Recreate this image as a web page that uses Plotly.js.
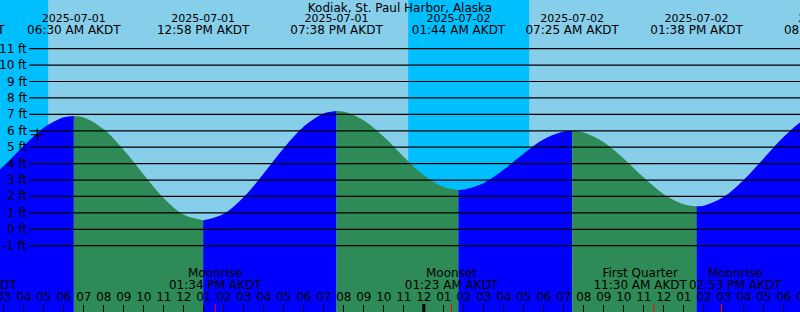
<!DOCTYPE html>
<html><head><meta charset="utf-8">
<script src="https://cdn.plot.ly/plotly-3.0.1.min.js"></script>
<style>html,body{margin:0;padding:0;background:#fff;overflow:hidden}#chart{width:800px;height:312px}</style>
</head><body><div id="chart"></div>
<script>
const stationName = 'Kodiak, St. Paul Harbor, Alaska';

// tide extremes (high / low)
const extremeTimes = ['2025-07-01 00:42','2025-07-01 06:30','2025-07-01 12:58','2025-07-01 19:38','2025-07-02 01:44','2025-07-02 07:25','2025-07-02 13:38','2025-07-02 20:19'];
const extremeHeights = [2.3, 6.9, 0.55, 7.2, 2.4, 6.0, 1.4, 7.2];
const extremeDates = ['2025-07-01','2025-07-01','2025-07-01','2025-07-01','2025-07-02','2025-07-02','2025-07-02','2025-07-02'];
const extremeClock = ['12:42 AM AKDT','06:30 AM AKDT','12:58 PM AKDT','07:38 PM AKDT','01:44 AM AKDT','07:25 AM AKDT','01:38 PM AKDT','08:19 PM AKDT'];

// hourly tide heights (ft)
const hourTimes = ['2025-07-01 02:00','2025-07-01 03:00','2025-07-01 04:00','2025-07-01 05:00','2025-07-01 06:00','2025-07-01 07:00','2025-07-01 08:00','2025-07-01 09:00','2025-07-01 10:00','2025-07-01 11:00','2025-07-01 12:00','2025-07-01 13:00','2025-07-01 14:00','2025-07-01 15:00','2025-07-01 16:00','2025-07-01 17:00','2025-07-01 18:00','2025-07-01 19:00','2025-07-01 20:00','2025-07-01 21:00','2025-07-01 22:00','2025-07-01 23:00','2025-07-02 00:00','2025-07-02 01:00','2025-07-02 02:00','2025-07-02 03:00','2025-07-02 04:00','2025-07-02 05:00','2025-07-02 06:00','2025-07-02 07:00','2025-07-02 08:00','2025-07-02 09:00','2025-07-02 10:00','2025-07-02 11:00','2025-07-02 12:00','2025-07-02 13:00','2025-07-02 14:00','2025-07-02 15:00','2025-07-02 16:00','2025-07-02 17:00','2025-07-02 18:00','2025-07-02 19:00','2025-07-02 20:00'];
const hourHeights = [2.85, 3.87, 5.09, 6.18, 6.82, 6.81, 6.09, 4.83, 3.32, 1.89, 0.89, 0.55, 0.94, 1.96, 3.41, 4.95, 6.26, 7.05, 7.16, 6.63, 5.63, 4.41, 3.29, 2.57, 2.42, 2.82, 3.64, 4.62, 5.48, 5.95, 5.90, 5.30, 4.30, 3.15, 2.14, 1.52, 1.44, 1.98, 3.02, 4.33, 5.64, 6.66, 7.17];

// moon events
const moonTimes = ['2025-07-01 01:18','2025-07-01 13:34','2025-07-02 01:23','2025-07-02 11:30','2025-07-02 14:53'];
const moonEvents = ['Moonset','Moonrise','Moonset','First Quarter','Moonrise'];
const moonClock = ['01:18 AM AKDT','01:34 PM AKDT','01:23 AM AKDT','11:30 AM AKDT','02:53 PM AKDT'];

// night periods
const nightStarts = ['2025-06-30 23:10','2025-07-01 23:13'];
const nightEnds = ['2025-07-01 05:13','2025-07-02 05:16'];

const midnightTimes = ['2025-07-02 00:00'];
const heightTicks = [-1,0,1,2,3,4,5,6,7,8,9,10,11];
const nowTime = '2025-07-01 04:40';
const nowHeight = 5.76;

// ---- styling / layout ----
const FONT = 'DejaVu Sans';
const RISE = '#0000FF', FALL = '#2E8B57', NIGHT = '#00BFFF', DAY = '#87CEEB';
const YMIN = -5.037, YMAX = 13.965;
const XRANGE = ['2025-07-01 02:48:30','2025-07-02 18:48:30'];
const W = 800, H = 312;
const moonLabelShiftMin = [0, 0, 0, -41, 41];   // label nudges to avoid collisions

function shiftTime(t, min){
  const d = new Date(t.replace(' ','T') + ':00Z');
  d.setUTCMinutes(d.getUTCMinutes() + min);
  return d.toISOString().slice(0,16).replace('T',' ');
}

const pts = [];
extremeTimes.forEach((t,i)=>pts.push({t:t, h:extremeHeights[i]}));
hourTimes.forEach((t,i)=>pts.push({t:t, h:hourHeights[i]}));
pts.sort((a,b)=> a.t < b.t ? -1 : (a.t > b.t ? 1 : 0));

const traces = [];
for (let i = 0; i < extremeTimes.length - 1; i++) {
  const t0 = extremeTimes[i], t1 = extremeTimes[i+1];
  const seg = pts.filter(p => p.t >= t0 && p.t <= t1);
  const col = extremeHeights[i+1] > extremeHeights[i] ? RISE : FALL;
  traces.push({x:[t0,t1], y:[YMIN,YMIN], mode:'lines', line:{width:0}, hoverinfo:'skip', showlegend:false});
  traces.push({x:seg.map(p=>p.t), y:seg.map(p=>p.h), mode:'lines', line:{width:0, shape:'spline', color:col},
               fill:'tonexty', fillcolor:col, hoverinfo:'skip', showlegend:false});
}
traces.push({x:[nowTime], y:[nowHeight], mode:'markers',
  marker:{symbol:'cross-thin', size:9, color:'#000', line:{color:'#000', width:1.2}}, showlegend:false, hoverinfo:'skip'});

function hourLabel(t){ const hh = parseInt(t.slice(11,13),10); const h12 = hh % 12 === 0 ? 12 : hh % 12; return (h12 < 10 ? '0' : '') + h12; }
const tf = {family:FONT, size:12, color:'#000'};
const tfSmall = {family:FONT, size:11, color:'#000'};
function textTrace(x, row, text, font){
  return {x:x, y:x.map(()=>row), text:text, mode:'text', textposition:'middle center', textfont:font || tf, yaxis:'y2', cliponaxis:true, showlegend:false, hoverinfo:'skip'};
}
const moonLabelX = moonTimes.map((t,i)=>shiftTime(t, moonLabelShiftMin[i]));
traces.push(textTrace(extremeTimes, 19.4, extremeDates, tfSmall));
traces.push(textTrace(extremeTimes, 31.3, extremeClock));
traces.push(textTrace(moonLabelX, 274, moonEvents));
traces.push(textTrace(moonLabelX, 286, moonClock));
traces.push(textTrace(hourTimes, 297.5, hourTimes.map(hourLabel)));

const shapes = [];
nightStarts.forEach((s,i)=>shapes.push({type:'rect', xref:'x', yref:'paper', x0:s, x1:nightEnds[i], y0:0, y1:1, fillcolor:NIGHT, line:{width:0}, layer:'below'}));
heightTicks.forEach(v=>shapes.push({type:'line', xref:'paper', yref:'y', x0:29.3/W, x1:1, y0:v, y1:v, line:{color:'#000', width:1.2}, layer:'above'}));
midnightTimes.forEach(t=>shapes.push({type:'line', xref:'x', yref:'paper', x0:t, x1:t, y0:0, y1:8/H, line:{color:'#000', width:3}, layer:'above'}));
moonTimes.forEach(t=>shapes.push({type:'line', xref:'x', yref:'paper', x0:t, x1:t, y0:0, y1:8/H, line:{color:'#FF0000', width:1}, layer:'above'}));

const annotations = heightTicks.map(v=>({xref:'paper', yref:'y', x:27.5/W, y:v, xanchor:'right', yanchor:'middle', text:v+' ft', showarrow:false, font:tf, borderpad:0}));

const layout = {
  width:W, height:H, margin:{l:0,r:0,t:0,b:0,pad:0},
  paper_bgcolor:DAY, plot_bgcolor:DAY, showlegend:false,
  title:{text:stationName, font:tf, x:0.5, xanchor:'center', xref:'paper', y:1-7.5/H, yref:'container', yanchor:'middle', pad:{t:0,b:0,l:0,r:0}},
  xaxis:{type:'date', range:XRANGE, ticks:'inside', ticklen:7, tickwidth:1, tickcolor:'#000', dtick:3600000, tick0:'2025-07-01 00:00',
         showticklabels:false, showgrid:false, zeroline:false, showline:false, fixedrange:true},
  yaxis:{range:[YMIN,YMAX], visible:false, showgrid:false, zeroline:false, fixedrange:true},
  yaxis2:{overlaying:'y', range:[H,0], visible:false, showgrid:false, zeroline:false, fixedrange:true},
  shapes:shapes, annotations:annotations, hovermode:false
};
Plotly.newPlot('chart', traces, layout, {staticPlot:true, displayModeBar:false});
</script></body></html>
